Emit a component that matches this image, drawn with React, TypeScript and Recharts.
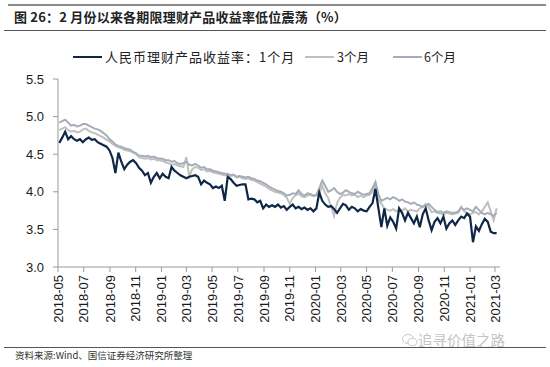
import React from "react";
import { LineChart, Line, XAxis, YAxis } from "recharts";

const TITLE = "图 26：2 月份以来各期限理财产品收益率低位震荡（%）";
const SOURCE = "资料来源:Wind、国信证券经济研究所整理";
const WATERMARK = "追寻价值之路";
const SERIES_NAMES = ["人民币理财产品收益率：1个月", "3个月", "6个月"];

const START_DATE = "2018-05-04"; // first weekly observation
const DOMAIN_DATES = ["2018-05-01", "2021-03-13"];
const TICK_LABELS = [
  "2018-05", "2018-07", "2018-09", "2018-11", "2019-01", "2019-03", "2019-05", "2019-07", "2019-09",
  "2019-11", "2020-01", "2020-03", "2020-05", "2020-07", "2020-09", "2020-11", "2021-01", "2021-03",
];
const Y_TICKS = [3.0, 3.5, 4.0, 4.5, 5.0, 5.5];

const YIELD_1M = [
  4.65, 4.72, 4.80, 4.70, 4.74, 4.70, 4.68, 4.70, 4.66, 4.70,
  4.72, 4.69, 4.70, 4.66, 4.64, 4.62, 4.60, 4.55, 4.45, 4.25,
  4.52, 4.40, 4.30, 4.36, 4.40, 4.42, 4.38, 4.32, 4.28, 4.22,
  4.25, 4.12, 4.20, 4.25, 4.18, 4.24, 4.20, 4.18, 4.33, 4.28,
  4.25, 4.22, 4.20, 4.18, 4.20, 4.21, 4.22, 4.20, 4.10, 4.15,
  4.12, 4.10, 4.05, 4.07, 4.05, 4.08, 3.88, 4.20, 4.17, 4.12,
  4.08, 4.09, 4.10, 4.10, 3.90, 3.91, 3.90, 3.86, 3.88, 3.78,
  3.83, 3.80, 3.82, 3.80, 3.83, 3.79, 3.81, 3.76, 3.80, 3.83,
  3.78, 3.80, 3.77, 3.79, 3.76, 3.78, 3.74, 3.78, 3.99, 3.88,
  3.83, 3.80, 3.81, 3.77, 3.72, 3.78, 3.84, 3.82, 3.76, 3.80,
  3.78, 3.74, 3.77, 3.75, 3.74, 3.80, 3.85, 4.04, 3.78, 3.53,
  3.78, 3.55, 3.66, 3.60, 3.51, 3.78, 3.72, 3.62, 3.72, 3.65,
  3.58, 3.67, 3.53, 3.70, 3.78, 3.62, 3.49, 3.60, 3.65, 3.58,
  3.67, 3.51, 3.58, 3.62, 3.56, 3.62, 3.67, 3.65, 3.71, 3.67,
  3.33, 3.54, 3.48, 3.57, 3.64, 3.60, 3.47, 3.45, 3.45,
];

const YIELD_3M = [
  4.82, 4.84, 4.86, 4.82, 4.80, 4.81, 4.79, 4.80, 4.83, 4.84,
  4.81, 4.79, 4.78, 4.76, 4.74, 4.72, 4.69, 4.67, 4.64, 4.61,
  4.59, 4.58, 4.56, 4.55, 4.54, 4.52, 4.50, 4.46, 4.45, 4.44,
  4.45, 4.43, 4.44, 4.42, 4.42, 4.41, 4.39, 4.38, 4.36, 4.37,
  4.35, 4.34, 4.33, 4.46, 4.20, 4.30, 4.33, 4.32, 4.29, 4.30,
  4.27, 4.28, 4.26, 4.25, 4.24, 4.23, 4.22, 4.23, 4.21, 4.22,
  4.19, 4.20, 4.18, 4.17, 4.18, 4.16, 4.15, 4.13, 4.11, 4.09,
  4.07, 4.04, 4.02, 4.00, 3.99, 3.98, 3.96, 3.92, 3.84, 3.92,
  3.95, 3.98, 3.94, 3.93, 3.95, 3.96, 3.94, 3.95, 3.98, 4.08,
  3.98, 3.92, 3.80, 3.68, 3.85, 3.92, 3.96, 3.95, 3.97, 3.95,
  3.96, 3.93, 3.95, 3.93, 3.95, 3.96, 4.00, 4.10, 3.90, 3.84,
  3.78, 3.76, 3.75, 3.77, 3.74, 3.76, 3.75, 3.78, 3.74, 3.76,
  3.75, 3.74, 3.78, 3.80, 3.84, 3.80, 3.73, 3.74, 3.72, 3.71,
  3.70, 3.72, 3.71, 3.70, 3.71, 3.72, 3.80, 3.74, 3.72, 3.70,
  3.72, 3.73, 3.70, 3.74, 3.80, 3.86, 3.74, 3.62, 3.78,
];

const YIELD_6M = [
  4.92, 4.94, 4.96, 4.92, 4.88, 4.89, 4.87, 4.88, 4.90, 4.90,
  4.88, 4.86, 4.84, 4.83, 4.81, 4.78, 4.75, 4.70, 4.67, 4.63,
  4.61, 4.60, 4.58, 4.57, 4.56, 4.53, 4.51, 4.48, 4.48, 4.47,
  4.48, 4.46, 4.47, 4.45, 4.44, 4.44, 4.42, 4.42, 4.40, 4.41,
  4.38, 4.37, 4.38, 4.40, 4.36, 4.35, 4.37, 4.35, 4.32, 4.33,
  4.30, 4.30, 4.28, 4.27, 4.26, 4.25, 4.24, 4.24, 4.22, 4.23,
  4.20, 4.21, 4.20, 4.19, 4.20, 4.18, 4.17, 4.15, 4.14, 4.12,
  4.10, 4.07, 4.05, 4.03, 4.01, 4.00, 3.98, 3.95, 3.96, 3.98,
  3.97, 4.02, 3.97, 3.95, 3.98, 3.97, 3.95, 3.96, 4.05, 4.15,
  4.08, 4.00, 4.02, 4.05, 4.00, 3.97, 3.99, 4.02, 4.00, 3.98,
  3.97, 4.00, 3.98, 3.96, 3.97, 3.98, 4.05, 4.13, 3.97, 3.88,
  3.90, 3.92, 3.90, 3.93, 3.91, 3.88, 3.90, 3.87, 3.86, 3.84,
  3.86, 3.83, 3.82, 3.80, 3.82, 3.84, 3.80, 3.76, 3.73, 3.74,
  3.72, 3.74, 3.73, 3.72, 3.72, 3.74, 3.79, 3.76, 3.78, 3.76,
  3.74, 3.80, 3.76, 3.72, 3.70, 3.72, 3.70, 3.68, 3.72,
];

const COLOR_1M = "#0e2747";
const COLOR_3M = "#c0c0c0";
const COLOR_6M = "#a5aeb8";
const AXIS_COLOR = "#9a9a9a";
const LABEL_FONT = "'Liberation Sans', Arial, sans-serif";
const CJK_FONT = "'Noto Sans CJK SC', 'Noto Sans', sans-serif";

const DAY = 86400000;
const toTs = (s: string) =>
  Date.UTC(+s.slice(0, 4), +s.slice(5, 7) - 1, s.length > 7 ? +s.slice(8, 10) : 1);
const startTs = toTs(START_DATE);
const data = YIELD_1M.map((v, i) => ({
  t: startTs + i * 7 * DAY,
  m1: v,
  m3: YIELD_3M[i],
  m6: YIELD_6M[i],
}));
const tickTs = TICK_LABELS.map(toTs);
const xDomain = DOMAIN_DATES.map(toTs);

const XTick = (props: any) => {
  const { x, y, index } = props;
  return (
    <text
      x={x}
      y={y}
      transform={`rotate(-90 ${x} ${y})`}
      textAnchor="end"
      dy="0.36em"
      fontSize={13}
      fill="#1a1a1a"
      fontFamily={LABEL_FONT}
    >
      {TICK_LABELS[index]}
    </text>
  );
};

const legendItems = [
  { name: SERIES_NAMES[0], color: COLOR_1M, lineX: 73, textX: 105, size: 13, spacing: 1 },
  { name: SERIES_NAMES[1], color: COLOR_3M, lineX: 305, textX: 337, size: 12.5, spacing: 0 },
  { name: SERIES_NAMES[2], color: COLOR_6M, lineX: 393, textX: 424, size: 12.5, spacing: 0 },
];

export default function App() {
  return (
    <div
      style={{
        position: "absolute",
        left: 0,
        top: 0,
        width: 550,
        height: 367,
        background: "#fff",
        overflow: "hidden",
      }}
    >
      {/* header rules */}
      <div style={{ position: "absolute", left: 8, top: 4, width: 538, height: 2, background: "#8a8a8a" }} />
      <div
        style={{
          position: "absolute",
          left: 14,
          top: 9,
          fontFamily: CJK_FONT,
          fontWeight: 700,
          fontSize: 13,
          lineHeight: "16px",
          letterSpacing: "0.2px",
          color: "#222",
          whiteSpace: "nowrap",
        }}
      >
        {TITLE}
      </div>
      <div style={{ position: "absolute", left: 4, top: 30, width: 542, height: 1, background: "#555" }} />

      {/* legend */}
      {legendItems.map((it) => (
        <React.Fragment key={it.name}>
          <div
            style={{
              position: "absolute",
              left: it.lineX,
              top: 56,
              width: 29,
              height: 2,
              background: it.color,
            }}
          />
          <div
            style={{
              position: "absolute",
              left: it.textX,
              top: 49,
              fontFamily: CJK_FONT,
              fontSize: it.size,
              letterSpacing: `${it.spacing}px`,
              lineHeight: "16px",
              color: "#222",
              whiteSpace: "nowrap",
            }}
          >
            {it.name}
          </div>
        </React.Fragment>
      ))}

      <div style={{ position: "absolute", left: 0, top: 0 }}>
        <LineChart width={550} height={367} data={data} margin={{ top: 79, right: 50, bottom: 30, left: 0 }}>
          <XAxis
            dataKey="t"
            type="number"
            domain={xDomain}
            ticks={tickTs}
            interval={0}
            height={70}
            tickSize={5}
            tickMargin={3}
            tick={<XTick />}
            axisLine={{ stroke: AXIS_COLOR }}
            tickLine={{ stroke: AXIS_COLOR }}
            allowDataOverflow
          />
          <YAxis
            type="number"
            domain={[3, 5.5]}
            ticks={Y_TICKS}
            width={58}
            tickSize={5}
            tickMargin={9}
            tickFormatter={(v: number) => v.toFixed(1)}
            tick={{ fontSize: 13, fill: "#1a1a1a", fontFamily: LABEL_FONT }}
            axisLine={{ stroke: AXIS_COLOR }}
            tickLine={{ stroke: AXIS_COLOR }}
            allowDataOverflow
          />
          <Line type="linear" dataKey="m3" stroke={COLOR_3M} strokeWidth={2} dot={false} isAnimationActive={false} />
          <Line type="linear" dataKey="m6" stroke={COLOR_6M} strokeWidth={2} dot={false} isAnimationActive={false} />
          <Line type="linear" dataKey="m1" stroke={COLOR_1M} strokeWidth={2.2} dot={false} isAnimationActive={false} />
        </LineChart>
      </div>

      {/* watermark */}
      <svg style={{ position: "absolute", left: 402, top: 333 }} width={16} height={14}>
        <ellipse cx={6} cy={6} rx={5.5} ry={4.5} fill="none" stroke="#c8c8c8" strokeWidth={1} />
        <ellipse cx={10.5} cy={9} rx={4.5} ry={3.6} fill="#fff" stroke="#c8c8c8" strokeWidth={1} />
      </svg>
      <div
        style={{
          position: "absolute",
          left: 418,
          top: 331,
          fontFamily: CJK_FONT,
          fontSize: 14.5,
          lineHeight: "18px",
          color: "#c4c4c4",
          whiteSpace: "nowrap",
        }}
      >
        {WATERMARK}
      </div>

      {/* footer */}
      <div style={{ position: "absolute", left: 4, top: 347, width: 542, height: 1, background: "#555" }} />
      <div
        style={{
          position: "absolute",
          left: 15,
          top: 349,
          fontFamily: CJK_FONT,
          fontSize: 9.5,
          lineHeight: "13px",
          color: "#333",
          whiteSpace: "nowrap",
        }}
      >
        {SOURCE}
      </div>
    </div>
  );
}
